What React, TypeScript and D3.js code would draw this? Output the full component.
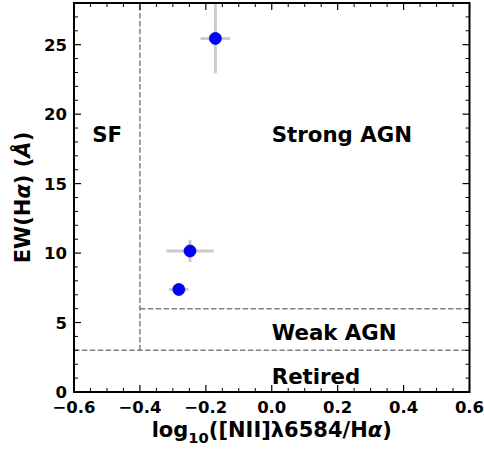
import React from "react";
import * as d3 from "d3";

const xVals = [-0.171, -0.248, -0.282];
const yVals = [25.45, 10.15, 7.38];
const xErr = [0.045, 0.072, 0.03];
const yErr = [2.5, 0.8, 0.3];
const xTicks = [-0.6, -0.4, -0.2, 0.0, 0.2, 0.4, 0.6];
const yTicks = [0, 5, 10, 15, 20, 25];
const regionLabels = [
  { text: "SF", x: -0.545, y: 18 },
  { text: "Strong AGN", x: 0.0, y: 18 },
  { text: "Weak AGN", x: 0.0, y: 3.75 },
  { text: "Retired", x: 0.0, y: 0.6 },
];

const W = 484, H = 452;
const L = 74, R = 469.5, T = 3, B = 392;
const FONT = "'DejaVu Sans', sans-serif";

export default function App() {
  const x = d3.scaleLinear().domain([-0.6, 0.6]).range([L, R]);
  const y = d3.scaleLinear().domain([0, 28]).range([B, T]);
  const xMinor = d3.range(-0.6, 0.6001, 0.05).filter((v) => !xTicks.some((t) => Math.abs(t - v) < 1e-6));
  const yMinor = d3.range(0, 28.001, 1).filter((v) => v % 5 !== 0);
  const dash = "5.5,2.4";
  const gray = "#808080";
  return (
    <svg width={W} height={H} style={{ position: "absolute", left: 0, top: 0, background: "white" }}>
      <defs>
        <clipPath id="clip">
          <rect x={L} y={T} width={R - L} height={B - T} />
        </clipPath>
      </defs>
      <g clipPath="url(#clip)">
        <line x1={x(-0.4)} x2={x(-0.4)} y1={y(3)} y2={y(28)} stroke={gray} strokeWidth={1.5} strokeDasharray={dash} />
        <line x1={x(-0.4)} x2={x(0.6)} y1={y(6)} y2={y(6)} stroke={gray} strokeWidth={1.5} strokeDasharray={dash} />
        <line x1={x(-0.6)} x2={x(0.6)} y1={y(3)} y2={y(3)} stroke={gray} strokeWidth={1.5} strokeDasharray={dash} />
        {xVals.map((xv, i) => (
          <g key={i}>
            <line x1={x(xv - xErr[i])} x2={x(xv + xErr[i])} y1={y(yVals[i])} y2={y(yVals[i])} stroke="#cccccc" strokeWidth={3} />
            <line x1={x(xv)} x2={x(xv)} y1={y(yVals[i] - yErr[i])} y2={y(yVals[i] + yErr[i])} stroke="#cccccc" strokeWidth={3} />
          </g>
        ))}
        {xVals.map((xv, i) => (
          <circle key={i} cx={x(xv)} cy={y(yVals[i])} r={6} fill="#0000ff" stroke="#0000cc" strokeWidth={0.8} />
        ))}
      </g>
      {regionLabels.map((d) => (
        <text key={d.text} x={x(d.x)} y={y(d.y)} fontFamily={FONT} fontWeight="bold" fontSize={21.3} fill="black">
          {d.text}
        </text>
      ))}
      {/* ticks */}
      <g stroke="black" strokeWidth={1.2}>
        {xTicks.map((t) => (
          <g key={"xt" + t}>
            <line x1={x(t)} x2={x(t)} y1={B} y2={B - 7} />
            <line x1={x(t)} x2={x(t)} y1={T} y2={T + 7} />
          </g>
        ))}
        {xMinor.map((t) => (
          <g key={"xm" + t}>
            <line x1={x(t)} x2={x(t)} y1={B} y2={B - 4} strokeWidth={1} />
            <line x1={x(t)} x2={x(t)} y1={T} y2={T + 4} strokeWidth={1} />
          </g>
        ))}
        {yTicks.map((t) => (
          <g key={"yt" + t}>
            <line x1={L} x2={L + 7} y1={y(t)} y2={y(t)} />
            <line x1={R} x2={R - 7} y1={y(t)} y2={y(t)} />
          </g>
        ))}
        {yMinor.map((t) => (
          <g key={"ym" + t}>
            <line x1={L} x2={L + 4} y1={y(t)} y2={y(t)} strokeWidth={1} />
            <line x1={R} x2={R - 4} y1={y(t)} y2={y(t)} strokeWidth={1} />
          </g>
        ))}
      </g>
      <rect x={L} y={T} width={R - L} height={B - T} fill="none" stroke="black" strokeWidth={2} />
      {xTicks.map((t) => (
        <text key={"xl" + t} x={x(t)} y={412.5} textAnchor="middle" fontFamily={FONT} fontWeight="bold" fontSize={16.5}>
          {t < 0 ? "\u2212" + Math.abs(t).toFixed(1) : t.toFixed(1)}
        </text>
      ))}
      {yTicks.map((t) => (
        <text key={"yl" + t} x={67} y={y(t) + 6} textAnchor="end" fontFamily={FONT} fontWeight="bold" fontSize={16.5}>
          {t}
        </text>
      ))}
      <text x={(L + R) / 2} y={437} textAnchor="middle" fontFamily={FONT} fontWeight="bold" fontSize={21}>
        log<tspan fontSize={14.7} dy={6}>10</tspan>
        <tspan dy={-6}>([NII]λ6584/H</tspan>
        <tspan fontStyle="italic">α</tspan>)
      </text>
      <text transform={`translate(30,${(T + B) / 2}) rotate(-90)`} textAnchor="middle" fontFamily={FONT} fontWeight="bold" fontSize={21}>
        EW(H<tspan fontStyle="italic">α</tspan>) (<tspan fontStyle="italic">Å</tspan>)
      </text>
    </svg>
  );
}
